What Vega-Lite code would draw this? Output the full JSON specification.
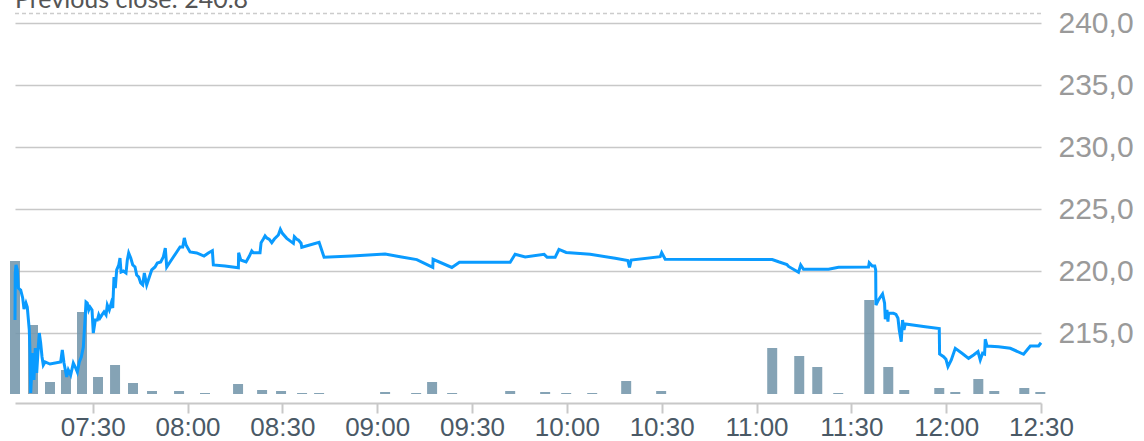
{
  "$schema": "https://vega.github.io/schema/vega-lite/v6.json",
  "autosize": {"type": "none"},
  "width": 1026,
  "height": 403,
  "padding": {"left": 15, "top": 0, "right": 103, "bottom": 38},
  "config": {"view": {"stroke": null}},
  "datasets": {
    "volume": [
      {"t": "2024-01-02T07:05:25", "v": 13300},
      {"t": "2024-01-02T07:11:07", "v": 6900},
      {"t": "2024-01-02T07:16:29", "v": 1200},
      {"t": "2024-01-02T07:21:33", "v": 2400},
      {"t": "2024-01-02T07:26:37", "v": 8200},
      {"t": "2024-01-02T07:31:41", "v": 1700},
      {"t": "2024-01-02T07:37:04", "v": 2900},
      {"t": "2024-01-02T07:42:45", "v": 1100},
      {"t": "2024-01-02T07:48:46", "v": 300},
      {"t": "2024-01-02T07:57:19", "v": 300},
      {"t": "2024-01-02T08:05:32", "v": 100},
      {"t": "2024-01-02T08:15:59", "v": 1000},
      {"t": "2024-01-02T08:23:35", "v": 400},
      {"t": "2024-01-02T08:29:35", "v": 300},
      {"t": "2024-01-02T08:36:14", "v": 100},
      {"t": "2024-01-02T08:41:37", "v": 100},
      {"t": "2024-01-02T09:02:30", "v": 200},
      {"t": "2024-01-02T09:12:19", "v": 100},
      {"t": "2024-01-02T09:17:22", "v": 1200},
      {"t": "2024-01-02T09:23:42", "v": 100},
      {"t": "2024-01-02T09:42:04", "v": 300},
      {"t": "2024-01-02T09:53:08", "v": 200},
      {"t": "2024-01-02T09:59:47", "v": 100},
      {"t": "2024-01-02T10:08:01", "v": 100},
      {"t": "2024-01-02T10:18:46", "v": 1300},
      {"t": "2024-01-02T10:29:50", "v": 300},
      {"t": "2024-01-02T11:04:58", "v": 4600},
      {"t": "2024-01-02T11:13:31", "v": 3800},
      {"t": "2024-01-02T11:19:13", "v": 2700},
      {"t": "2024-01-02T11:25:51", "v": 100},
      {"t": "2024-01-02T11:35:40", "v": 9400},
      {"t": "2024-01-02T11:41:41", "v": 2700},
      {"t": "2024-01-02T11:46:44", "v": 400},
      {"t": "2024-01-02T11:57:49", "v": 600},
      {"t": "2024-01-02T12:02:53", "v": 200},
      {"t": "2024-01-02T12:10:10", "v": 1500},
      {"t": "2024-01-02T12:15:13", "v": 300},
      {"t": "2024-01-02T12:24:43", "v": 600},
      {"t": "2024-01-02T12:29:47", "v": 200}
    ],
    "price": [
      {"t": "2024-01-02T07:05:25", "p": 216.07},
      {"t": "2024-01-02T07:05:30", "p": 219.86},
      {"t": "2024-01-02T07:05:44", "p": 220.51},
      {"t": "2024-01-02T07:06:08", "p": 220.11},
      {"t": "2024-01-02T07:06:28", "p": 218.65},
      {"t": "2024-01-02T07:07:13", "p": 218.49},
      {"t": "2024-01-02T07:07:51", "p": 217.85},
      {"t": "2024-01-02T07:08:16", "p": 216.96},
      {"t": "2024-01-02T07:08:53", "p": 217.44},
      {"t": "2024-01-02T07:09:18", "p": 217.12},
      {"t": "2024-01-02T07:09:56", "p": 215.27},
      {"t": "2024-01-02T07:10:10", "p": 213.41},
      {"t": "2024-01-02T07:10:23", "p": 210.19},
      {"t": "2024-01-02T07:11:01", "p": 213.41},
      {"t": "2024-01-02T07:11:25", "p": 211.23},
      {"t": "2024-01-02T07:11:50", "p": 213.81},
      {"t": "2024-01-02T07:12:17", "p": 211.80},
      {"t": "2024-01-02T07:12:47", "p": 213.89},
      {"t": "2024-01-02T07:13:06", "p": 215.02},
      {"t": "2024-01-02T07:13:32", "p": 214.22},
      {"t": "2024-01-02T07:13:58", "p": 213.09},
      {"t": "2024-01-02T07:14:22", "p": 212.44},
      {"t": "2024-01-02T07:14:55", "p": 212.69},
      {"t": "2024-01-02T07:16:29", "p": 212.52},
      {"t": "2024-01-02T07:19:52", "p": 212.69},
      {"t": "2024-01-02T07:20:23", "p": 213.65},
      {"t": "2024-01-02T07:20:55", "p": 212.60},
      {"t": "2024-01-02T07:21:46", "p": 211.48},
      {"t": "2024-01-02T07:22:17", "p": 212.04},
      {"t": "2024-01-02T07:23:02", "p": 211.64},
      {"t": "2024-01-02T07:23:52", "p": 212.60},
      {"t": "2024-01-02T07:24:29", "p": 212.28},
      {"t": "2024-01-02T07:25:08", "p": 211.88},
      {"t": "2024-01-02T07:25:46", "p": 212.69},
      {"t": "2024-01-02T07:26:23", "p": 213.09},
      {"t": "2024-01-02T07:27:02", "p": 213.89},
      {"t": "2024-01-02T07:27:34", "p": 216.07},
      {"t": "2024-01-02T07:27:53", "p": 217.52},
      {"t": "2024-01-02T07:28:17", "p": 217.44},
      {"t": "2024-01-02T07:28:44", "p": 216.88},
      {"t": "2024-01-02T07:29:09", "p": 217.12},
      {"t": "2024-01-02T07:29:47", "p": 216.88},
      {"t": "2024-01-02T07:30:11", "p": 215.02},
      {"t": "2024-01-02T07:30:49", "p": 216.07},
      {"t": "2024-01-02T07:31:28", "p": 216.07},
      {"t": "2024-01-02T07:31:54", "p": 216.48},
      {"t": "2024-01-02T07:32:19", "p": 216.23},
      {"t": "2024-01-02T07:32:56", "p": 216.48},
      {"t": "2024-01-02T07:33:35", "p": 216.72},
      {"t": "2024-01-02T07:34:13", "p": 216.48},
      {"t": "2024-01-02T07:34:37", "p": 217.28},
      {"t": "2024-01-02T07:35:15", "p": 216.88},
      {"t": "2024-01-02T07:35:53", "p": 217.44},
      {"t": "2024-01-02T07:36:20", "p": 217.04},
      {"t": "2024-01-02T07:36:44", "p": 219.54},
      {"t": "2024-01-02T07:37:09", "p": 218.65},
      {"t": "2024-01-02T07:37:35", "p": 220.11},
      {"t": "2024-01-02T07:38:14", "p": 220.51},
      {"t": "2024-01-02T07:38:38", "p": 221.07},
      {"t": "2024-01-02T07:38:58", "p": 219.94},
      {"t": "2024-01-02T07:39:41", "p": 220.02},
      {"t": "2024-01-02T07:40:32", "p": 219.86},
      {"t": "2024-01-02T07:40:57", "p": 220.91},
      {"t": "2024-01-02T07:41:23", "p": 221.48},
      {"t": "2024-01-02T07:42:02", "p": 221.07},
      {"t": "2024-01-02T07:42:40", "p": 220.51},
      {"t": "2024-01-02T07:43:23", "p": 220.35},
      {"t": "2024-01-02T07:43:55", "p": 219.70},
      {"t": "2024-01-02T07:44:34", "p": 219.54},
      {"t": "2024-01-02T07:45:11", "p": 219.06},
      {"t": "2024-01-02T07:45:49", "p": 218.90},
      {"t": "2024-01-02T07:46:20", "p": 219.86},
      {"t": "2024-01-02T07:47:05", "p": 218.90},
      {"t": "2024-01-02T07:47:55", "p": 219.54},
      {"t": "2024-01-02T07:48:40", "p": 220.11},
      {"t": "2024-01-02T07:49:43", "p": 220.35},
      {"t": "2024-01-02T07:50:26", "p": 220.67},
      {"t": "2024-01-02T07:51:31", "p": 220.75},
      {"t": "2024-01-02T07:52:20", "p": 221.15},
      {"t": "2024-01-02T07:52:58", "p": 221.88},
      {"t": "2024-01-02T07:53:25", "p": 220.35},
      {"t": "2024-01-02T07:54:28", "p": 220.75},
      {"t": "2024-01-02T07:55:31", "p": 221.15},
      {"t": "2024-01-02T07:56:35", "p": 221.56},
      {"t": "2024-01-02T07:57:38", "p": 221.96},
      {"t": "2024-01-02T07:58:29", "p": 221.96},
      {"t": "2024-01-02T07:58:59", "p": 222.69},
      {"t": "2024-01-02T07:59:32", "p": 222.12},
      {"t": "2024-01-02T08:00:47", "p": 221.56},
      {"t": "2024-01-02T08:02:55", "p": 221.48},
      {"t": "2024-01-02T08:05:13", "p": 221.23},
      {"t": "2024-01-02T08:06:35", "p": 221.48},
      {"t": "2024-01-02T08:07:51", "p": 221.66},
      {"t": "2024-01-02T08:08:10", "p": 220.51},
      {"t": "2024-01-02T08:11:52", "p": 220.43},
      {"t": "2024-01-02T08:16:05", "p": 220.29},
      {"t": "2024-01-02T08:16:10", "p": 221.50},
      {"t": "2024-01-02T08:16:50", "p": 220.91},
      {"t": "2024-01-02T08:18:31", "p": 220.75},
      {"t": "2024-01-02T08:19:34", "p": 221.23},
      {"t": "2024-01-02T08:20:19", "p": 221.64},
      {"t": "2024-01-02T08:20:49", "p": 221.50},
      {"t": "2024-01-02T08:22:56", "p": 221.50},
      {"t": "2024-01-02T08:23:16", "p": 222.31},
      {"t": "2024-01-02T08:23:59", "p": 222.60},
      {"t": "2024-01-02T08:24:32", "p": 222.85},
      {"t": "2024-01-02T08:25:04", "p": 222.69},
      {"t": "2024-01-02T08:25:53", "p": 222.58},
      {"t": "2024-01-02T08:26:39", "p": 222.31},
      {"t": "2024-01-02T08:27:28", "p": 222.60},
      {"t": "2024-01-02T08:28:44", "p": 222.93},
      {"t": "2024-01-02T08:29:22", "p": 223.39},
      {"t": "2024-01-02T08:30:00", "p": 223.06},
      {"t": "2024-01-02T08:31:23", "p": 222.66},
      {"t": "2024-01-02T08:32:45", "p": 222.39},
      {"t": "2024-01-02T08:33:29", "p": 222.26},
      {"t": "2024-01-02T08:33:48", "p": 222.79},
      {"t": "2024-01-02T08:34:34", "p": 222.58},
      {"t": "2024-01-02T08:35:04", "p": 222.52},
      {"t": "2024-01-02T08:35:55", "p": 222.26},
      {"t": "2024-01-02T08:36:08", "p": 221.94},
      {"t": "2024-01-02T08:41:37", "p": 222.34},
      {"t": "2024-01-02T08:43:12", "p": 221.13},
      {"t": "2024-01-02T08:51:58", "p": 221.23},
      {"t": "2024-01-02T09:02:30", "p": 221.40},
      {"t": "2024-01-02T09:07:15", "p": 221.18},
      {"t": "2024-01-02T09:12:32", "p": 220.94},
      {"t": "2024-01-02T09:17:35", "p": 220.31},
      {"t": "2024-01-02T09:17:41", "p": 220.97},
      {"t": "2024-01-02T09:23:37", "p": 220.31},
      {"t": "2024-01-02T09:26:01", "p": 220.73},
      {"t": "2024-01-02T09:42:04", "p": 220.73},
      {"t": "2024-01-02T09:43:38", "p": 221.37},
      {"t": "2024-01-02T09:46:49", "p": 221.15},
      {"t": "2024-01-02T09:52:49", "p": 221.37},
      {"t": "2024-01-02T09:53:46", "p": 221.13},
      {"t": "2024-01-02T09:56:18", "p": 221.13},
      {"t": "2024-01-02T09:57:30", "p": 221.76},
      {"t": "2024-01-02T09:59:47", "p": 221.52},
      {"t": "2024-01-02T10:07:22", "p": 221.37},
      {"t": "2024-01-02T10:15:17", "p": 221.05},
      {"t": "2024-01-02T10:19:18", "p": 220.86},
      {"t": "2024-01-02T10:19:49", "p": 220.32},
      {"t": "2024-01-02T10:20:21", "p": 220.91},
      {"t": "2024-01-02T10:29:32", "p": 221.18},
      {"t": "2024-01-02T10:30:00", "p": 221.50},
      {"t": "2024-01-02T10:31:07", "p": 220.97},
      {"t": "2024-01-02T11:04:58", "p": 220.95},
      {"t": "2024-01-02T11:06:58", "p": 220.77},
      {"t": "2024-01-02T11:09:37", "p": 220.55},
      {"t": "2024-01-02T11:10:08", "p": 220.39},
      {"t": "2024-01-02T11:13:17", "p": 219.92},
      {"t": "2024-01-02T11:13:59", "p": 220.51},
      {"t": "2024-01-02T11:14:52", "p": 220.16},
      {"t": "2024-01-02T11:22:47", "p": 220.16},
      {"t": "2024-01-02T11:25:57", "p": 220.32},
      {"t": "2024-01-02T11:35:26", "p": 220.35},
      {"t": "2024-01-02T11:35:40", "p": 220.69},
      {"t": "2024-01-02T11:36:37", "p": 220.43},
      {"t": "2024-01-02T11:37:24", "p": 220.43},
      {"t": "2024-01-02T11:37:42", "p": 220.11},
      {"t": "2024-01-02T11:37:47", "p": 217.28},
      {"t": "2024-01-02T11:38:35", "p": 217.69},
      {"t": "2024-01-02T11:39:52", "p": 218.17},
      {"t": "2024-01-02T11:40:31", "p": 217.42},
      {"t": "2024-01-02T11:40:44", "p": 216.13},
      {"t": "2024-01-02T11:41:16", "p": 216.88},
      {"t": "2024-01-02T11:41:35", "p": 215.94},
      {"t": "2024-01-02T11:41:46", "p": 216.61},
      {"t": "2024-01-02T11:43:21", "p": 216.61},
      {"t": "2024-01-02T11:44:07", "p": 216.53},
      {"t": "2024-01-02T11:44:45", "p": 216.21},
      {"t": "2024-01-02T11:45:10", "p": 215.27},
      {"t": "2024-01-02T11:45:47", "p": 214.32},
      {"t": "2024-01-02T11:46:12", "p": 216.07},
      {"t": "2024-01-02T11:46:39", "p": 215.27},
      {"t": "2024-01-02T11:47:04", "p": 215.75},
      {"t": "2024-01-02T11:53:23", "p": 215.53},
      {"t": "2024-01-02T11:57:49", "p": 215.39},
      {"t": "2024-01-02T11:57:55", "p": 213.33},
      {"t": "2024-01-02T11:59:11", "p": 213.11},
      {"t": "2024-01-02T11:59:56", "p": 212.90},
      {"t": "2024-01-02T12:00:34", "p": 212.31},
      {"t": "2024-01-02T12:01:37", "p": 212.85},
      {"t": "2024-01-02T12:02:53", "p": 213.79},
      {"t": "2024-01-02T12:05:00", "p": 213.39},
      {"t": "2024-01-02T12:07:05", "p": 212.98},
      {"t": "2024-01-02T12:08:40", "p": 213.25},
      {"t": "2024-01-02T12:10:04", "p": 213.52},
      {"t": "2024-01-02T12:10:47", "p": 212.85},
      {"t": "2024-01-02T12:11:31", "p": 213.39},
      {"t": "2024-01-02T12:12:09", "p": 213.33},
      {"t": "2024-01-02T12:12:22", "p": 214.52},
      {"t": "2024-01-02T12:12:55", "p": 213.98},
      {"t": "2024-01-02T12:16:35", "p": 213.92},
      {"t": "2024-01-02T12:20:17", "p": 213.79},
      {"t": "2024-01-02T12:24:29", "p": 213.31},
      {"t": "2024-01-02T12:26:37", "p": 213.98},
      {"t": "2024-01-02T12:29:14", "p": 213.98},
      {"t": "2024-01-02T12:30:00", "p": 214.24}
    ],
    "close": [
      {"t": "2024-01-02T07:05:25", "p": 240.8, "label": "Previous close: 240.8"}
    ]
  },
  "encoding": {
    "x": {
      "field": "t", "type": "temporal",
      "scale": {
        "domain": [
          {"year": 2024, "month": 1, "date": 2, "hours": 7, "minutes": 5, "seconds": 25},
          {"year": 2024, "month": 1, "date": 2, "hours": 12, "minutes": 30, "seconds": 0}
        ],
        "padding": 0
      },
      "axis": {
        "title": null, "format": "%H:%M",
        "values": [
          {"year": 2024, "month": 1, "date": 2, "hours": 7, "minutes": 30},
          {"year": 2024, "month": 1, "date": 2, "hours": 8, "minutes": 0},
          {"year": 2024, "month": 1, "date": 2, "hours": 8, "minutes": 30},
          {"year": 2024, "month": 1, "date": 2, "hours": 9, "minutes": 0},
          {"year": 2024, "month": 1, "date": 2, "hours": 9, "minutes": 30},
          {"year": 2024, "month": 1, "date": 2, "hours": 10, "minutes": 0},
          {"year": 2024, "month": 1, "date": 2, "hours": 10, "minutes": 30},
          {"year": 2024, "month": 1, "date": 2, "hours": 11, "minutes": 0},
          {"year": 2024, "month": 1, "date": 2, "hours": 11, "minutes": 30},
          {"year": 2024, "month": 1, "date": 2, "hours": 12, "minutes": 0},
          {"year": 2024, "month": 1, "date": 2, "hours": 12, "minutes": 30}
        ],
        "grid": false,
        "domainColor": "#c8c8c8", "domainWidth": 2,
        "tickColor": "#c8c8c8", "tickWidth": 2, "tickSize": 10,
        "labelFont": "Liberation Sans", "labelFontSize": 26, "labelColor": "#4a5966",
        "labelBaseline": "alphabetic", "labelPadding": 22,
        "labelFlush": false, "labelOverlap": false
      }
    }
  },
  "layer": [
    {
      "data": {"name": "volume"},
      "mark": {"type": "bar", "size": 10, "color": "#7395aa", "opacity": 0.87},
      "encoding": {
        "y": {
          "field": "v", "type": "quantitative",
          "scale": {"domain": [-900, 39400], "nice": false, "zero": false},
          "axis": null
        },
        "y2": {"datum": 0}
      }
    },
    {
      "data": {"name": "price"},
      "mark": {"type": "line", "color": "#0a9bff", "strokeWidth": 3},
      "encoding": {
        "y": {
          "field": "p", "type": "quantitative",
          "scale": {"domain": [209.379, 241.879], "nice": false, "zero": false},
          "axis": {
            "orient": "right", "title": null,
            "values": [215, 220, 225, 230, 235, 240],
            "labelExpr": "replace(format(datum.value, '.1f'), '.', ',')",
            "grid": true, "gridColor": "#c8c8c8", "gridWidth": 1.5,
            "domain": false, "ticks": false,
            "labelFont": "Liberation Sans", "labelFontSize": 30, "labelColor": "#9a9a9a",
            "labelPadding": 17
          }
        }
      }
    },
    {
      "data": {"name": "close"},
      "mark": {"type": "rule", "color": "#cccccc", "strokeWidth": 1.5, "strokeDash": [4, 3]},
      "encoding": {
        "x": null,
        "y": {"field": "p", "type": "quantitative",
              "scale": {"domain": [209.379, 241.879], "nice": false, "zero": false},
              "axis": null}
      }
    },
    {
      "data": {"name": "close"},
      "mark": {"type": "text", "align": "left", "baseline": "alphabetic", "dy": -5, "font": "Lato", "fontSize": 25, "color": "#555555"},
      "encoding": {
        "y": {"field": "p", "type": "quantitative",
              "scale": {"domain": [209.379, 241.879], "nice": false, "zero": false},
              "axis": null},
        "text": {"field": "label"}
      }
    }
  ],
  "resolve": {"scale": {"y": "independent"}}
}
